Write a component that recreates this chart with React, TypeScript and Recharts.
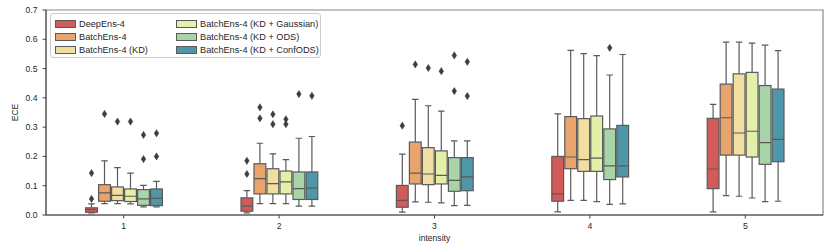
import React from 'react';
import { BarChart, Bar, XAxis, YAxis, Legend, ReferenceArea } from 'recharts';

const categories = ['1', '2', '3', '4', '5'];
const seriesNames = [
  'DeepEns-4',
  'BatchEns-4',
  'BatchEns-4 (KD)',
  'BatchEns-4 (KD + Gaussian)',
  'BatchEns-4 (KD + ODS)',
  'BatchEns-4 (KD + ConfODS)',
];
const seriesColors = ['#d25a58', '#e8a46c', '#f2dea2', '#e4efaa', '#a8d4a8', '#4e96a8'];
const yTicks = [0, 0.1, 0.2, 0.3, 0.4, 0.5, 0.6, 0.7];

// [whiskerLow, q1, median, q3, whiskerHigh] for intensity 1..5
const deepEnsBox = [
  [0.0075, 0.0095, 0.0187, 0.0245, 0.038],
  [0.0075, 0.013, 0.03, 0.0585, 0.083],
  [0.0095, 0.0265, 0.05, 0.101, 0.208],
  [0.011, 0.047, 0.072, 0.2, 0.345],
  [0.011, 0.09, 0.157, 0.33, 0.378],
];
const batchEnsBox = [
  [0.039, 0.047, 0.0754, 0.1036, 0.185],
  [0.039, 0.072, 0.124, 0.175, 0.245],
  [0.045, 0.106, 0.143, 0.249, 0.395],
  [0.05, 0.158, 0.198, 0.336, 0.562],
  [0.066, 0.2045, 0.332, 0.447, 0.59],
];
const kdBox = [
  [0.039, 0.049, 0.067, 0.0958, 0.162],
  [0.039, 0.072, 0.107, 0.158, 0.209],
  [0.0435, 0.1036, 0.14, 0.23, 0.373],
  [0.05, 0.149, 0.189, 0.329, 0.551],
  [0.064, 0.2045, 0.28, 0.482, 0.59],
];
const gaussianBox = [
  [0.038, 0.046, 0.064, 0.089, 0.143],
  [0.039, 0.072, 0.113, 0.15, 0.189],
  [0.0415, 0.106, 0.135, 0.219, 0.355],
  [0.046, 0.149, 0.194, 0.338, 0.544],
  [0.058, 0.198, 0.286, 0.487, 0.587],
];
const odsBox = [
  [0.028, 0.033, 0.055, 0.0866, 0.101],
  [0.03, 0.053, 0.09, 0.147, 0.262],
  [0.032, 0.081, 0.118, 0.196, 0.253],
  [0.036, 0.121, 0.168, 0.294, 0.478],
  [0.046, 0.173, 0.247, 0.442, 0.58],
];
const confOdsBox = [
  [0.028, 0.032, 0.057, 0.089, 0.115],
  [0.03, 0.053, 0.092, 0.147, 0.268],
  [0.033, 0.083, 0.13, 0.196, 0.253],
  [0.038, 0.13, 0.168, 0.306, 0.548],
  [0.047, 0.182, 0.258, 0.43, 0.561],
];

const deepEnsOutliers = [[0.055, 0.143], [0.14, 0.185], [0.305], [], []];
const batchEnsOutliers = [[0.345], [0.33, 0.3676], [0.514], [], []];
const kdOutliers = [[0.319], [0.31, 0.344], [0.502], [], []];
const gaussianOutliers = [[0.319], [0.31, 0.327], [0.491], [], []];
const odsOutliers = [[0.191, 0.2735], [0.413], [0.423, 0.545], [0.571], []];
const confOdsOutliers = [[0.2, 0.279], [0.407], [0.406, 0.523], [], []];

const boxes = [deepEnsBox, batchEnsBox, kdBox, gaussianBox, odsBox, confOdsBox];
const outliers = [deepEnsOutliers, batchEnsOutliers, kdOutliers, gaussianOutliers, odsOutliers, confOdsOutliers];

const rangeOf = (s: number, c: number): [number, number] => {
  const b = boxes[s][c];
  const o = outliers[s][c];
  return [Math.min(b[0], ...o), Math.max(b[4], ...o)];
};

const data = categories.map((cat, c) => {
  const row: any = { cat };
  seriesNames.forEach((_, s) => {
    row['s' + s] = rangeOf(s, c);
  });
  return row;
});

const EDGE = '#5a5a5a';
const FLIER = '#3d3d3d';
const FONT = '"Liberation Sans", Arial, sans-serif';
const TEXT = '#262626';

const makeShape = (s: number) => (props: any) => {
  const { x, y, width, height, payload } = props;
  if (x == null || y == null || !payload) return <g />;
  const c = categories.indexOf(payload.cat);
  if (c < 0) return <g />;
  const [lo, hi] = rangeOf(s, c);
  const top = Math.min(y, y + height);
  const bot = Math.max(y, y + height);
  const py = (v: number) => (hi === lo ? bot : bot - ((bot - top) * (v - lo)) / (hi - lo));
  const [wl, q1, med, q3, wh] = boxes[s][c];
  const cx = x + width / 2;
  const capW = width * 0.5;
  const sw = 1.2;
  return (
    <g>
      <line x1={cx} x2={cx} y1={py(wh)} y2={py(q3)} stroke={EDGE} strokeWidth={sw} />
      <line x1={cx} x2={cx} y1={py(q1)} y2={py(wl)} stroke={EDGE} strokeWidth={sw} />
      <line x1={cx - capW / 2} x2={cx + capW / 2} y1={py(wh)} y2={py(wh)} stroke={EDGE} strokeWidth={sw} />
      <line x1={cx - capW / 2} x2={cx + capW / 2} y1={py(wl)} y2={py(wl)} stroke={EDGE} strokeWidth={sw} />
      <rect
        x={x + 0.6}
        y={py(q3)}
        width={width - 1.2}
        height={py(q1) - py(q3)}
        fill={seriesColors[s]}
        stroke={EDGE}
        strokeWidth={sw}
      />
      <line x1={x + 0.6} x2={x + width - 0.6} y1={py(med)} y2={py(med)} stroke={EDGE} strokeWidth={sw} />
      {outliers[s][c].map((v, i) => {
        const oy = py(v);
        return (
          <polygon
            key={i}
            points={`${cx},${oy - 3.6} ${cx + 2.3},${oy} ${cx},${oy + 3.6} ${cx - 2.3},${oy}`}
            fill={FLIER}
            stroke={FLIER}
            strokeWidth={0.5}
          />
        );
      })}
    </g>
  );
};

const LegendContent = () => {
  const cols = [
    [0, 1, 2],
    [3, 4, 5],
  ];
  return (
    <div
      style={{
        position: 'relative',
        width: 271,
        height: 45,
        boxSizing: 'border-box',
        border: '1px solid #cccccc',
        borderRadius: 3,
        background: 'rgba(255,255,255,0.85)',
        fontFamily: FONT,
        fontSize: 9.2,
        color: TEXT,
      }}
    >
      {cols.map((col, ci) =>
        col.map((s, ri) => (
          <div
            key={s}
            style={{
              position: 'absolute',
              left: ci === 0 ? 3.5 : 124.5,
              top: 4 + ri * 13.4,
              height: 11,
              display: 'flex',
              alignItems: 'center',
              whiteSpace: 'nowrap',
            }}
          >
            <span
              style={{
                display: 'inline-block',
                width: 19,
                height: 6,
                background: seriesColors[s],
                border: `1px solid ${EDGE}`,
                marginRight: 3.5,
              }}
            />
            <span>{seriesNames[s]}</span>
          </div>
        ))
      )}
    </div>
  );
};

export default function App() {
  return (
    <div style={{ position: 'absolute', left: 0, top: 0, width: 830, height: 251, background: '#fff' }}>
      <BarChart
        width={830}
        height={251}
        data={data}
        margin={{ top: 10, right: 7, bottom: 0, left: 0 }}
        barSize={13}
        barGap={0}
      >
        <ReferenceArea y1={0} y2={0.7} fill="none" stroke="#888" strokeWidth={1.2} ifOverflow="visible" />
        <XAxis
          dataKey="cat"
          height={36}
          stroke="#444"
          tickLine={{ stroke: '#444' }}
          tickSize={3.5}
          tickMargin={4}
          tick={{ fill: TEXT, fontSize: 8.6, fontFamily: FONT }}
          label={(p: any) => {
            const vb = p.viewBox;
            return (
              <text
                x={vb.x + vb.width / 2}
                y={vb.y + 26}
                textAnchor="middle"
                fill={TEXT}
                fontSize={8.6}
                fontFamily={FONT}
              >
                intensity
              </text>
            );
          }}
        />
        <YAxis
          width={46}
          domain={[0, 0.7]}
          ticks={yTicks}
          type="number"
          allowDataOverflow
          stroke="#444"
          tickSize={3.5}
          tickMargin={5}
          tickFormatter={(v: number) => v.toFixed(1)}
          tick={{ fill: TEXT, fontSize: 8.6, fontFamily: FONT }}
          label={(p: any) => {
            const vb = p.viewBox;
            const cy = vb.y + vb.height / 2;
            return (
              <text
                x={14.5}
                y={cy}
                textAnchor="middle"
                dominantBaseline="central"
                transform={`rotate(-90, 14.5, ${cy})`}
                fill={TEXT}
                fontSize={8.6}
                fontFamily={FONT}
              >
                ECE
              </text>
            );
          }}
        />
        <Legend
          layout="horizontal"
          verticalAlign="middle"
          align="center"
          wrapperStyle={{ left: 50, top: 13, width: 271, height: 45 }}
          content={() => <LegendContent />}
        />
        {seriesNames.map((name, s) => (
          <Bar
            key={name}
            name={name}
            dataKey={'s' + s}
            fill={seriesColors[s]}
            isAnimationActive={false}
            shape={makeShape(s)}
          />
        ))}
      </BarChart>
    </div>
  );
}
